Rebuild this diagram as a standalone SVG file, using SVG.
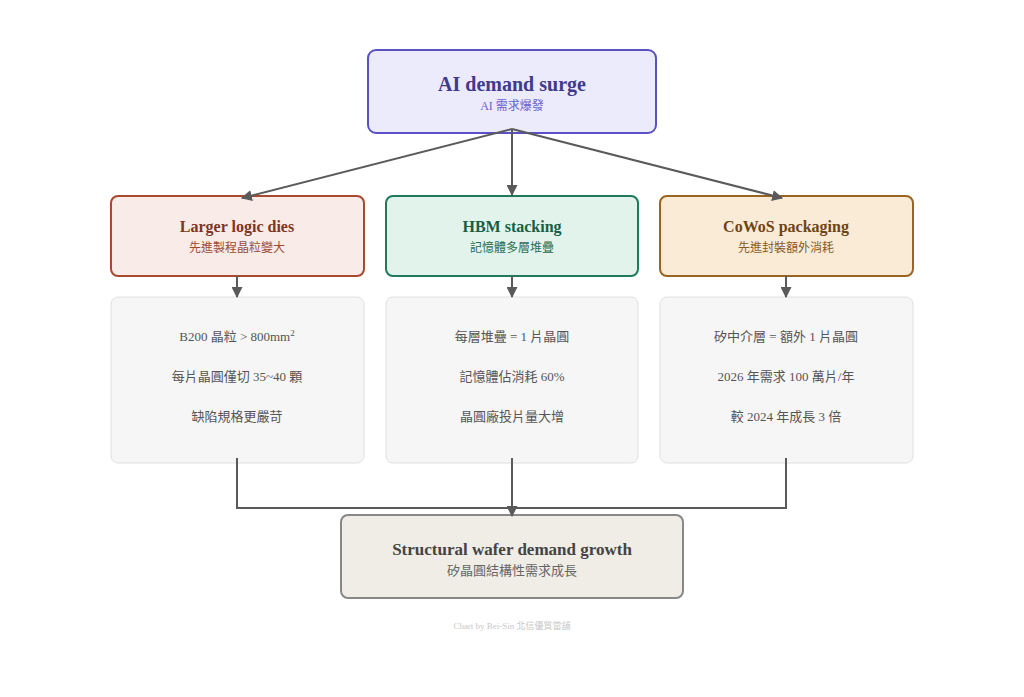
<svg xmlns="http://www.w3.org/2000/svg" width="1024" height="697" viewBox="0 0 1024 697">
<style>
text{font-family:"Liberation Serif","Noto Sans CJK TC",serif;text-anchor:middle}
.t{font-weight:bold}
.d{font-size:13px;fill:#555}
.c{stroke:#5a5a5a;stroke-width:2;fill:none}
</style>
<defs>
<marker id="ah" viewBox="0 0 10 10" refX="9" refY="5" markerWidth="5.5" markerHeight="5.5" orient="auto"><path d="M0,0 L10,5 L0,10 z" fill="#5a5a5a"/></marker>
</defs>
<rect width="1024" height="697" fill="#fff"/>
<g id="top">
<rect x="368" y="50" width="288" height="83" rx="8" fill="#ecebfc" stroke="#5b50c4" stroke-width="2"/>
<text class="t" x="512" y="91" font-size="20" fill="#3f3a8c">AI demand surge</text>
<text x="512" y="110" font-size="12" fill="#6a5fd0">AI 需求爆發</text>
</g>
<g id="logic">
<rect x="111" y="196" width="253" height="80" rx="7" fill="#f9ece8" stroke="#a84a30" stroke-width="2"/>
<text class="t" x="237" y="232" font-size="16" fill="#7e3522">Larger logic dies</text>
<text x="237" y="252" font-size="12" fill="#9a4a35">先進製程晶粒變大</text>
</g>
<g id="hbm">
<rect x="386" y="196" width="252" height="80" rx="7" fill="#e2f3ec" stroke="#1e7a5a" stroke-width="2"/>
<text class="t" x="512" y="232" font-size="16" fill="#175e45">HBM stacking</text>
<text x="512" y="252" font-size="12" fill="#2a6f56">記憶體多層堆疊</text>
</g>
<g id="cowos">
<rect x="660" y="196" width="253" height="80" rx="7" fill="#faebd7" stroke="#9b6422" stroke-width="2"/>
<text class="t" x="786" y="232" font-size="16" fill="#6e4414">CoWoS packaging</text>
<text x="786" y="252" font-size="12" fill="#8a5a26">先進封裝額外消耗</text>
</g>
<g id="logic-detail">
<rect x="111" y="297" width="253" height="166" rx="7" fill="#f6f6f6" stroke="#e0e0e0" stroke-width="1"/>
<text class="d" x="237" y="341">B200 晶粒 &gt; 800mm<tspan font-size="9" dy="-5">2</tspan></text>
<text class="d" x="237" y="381">每片晶圓僅切 35~40 顆</text>
<text class="d" x="237" y="421">缺陷規格更嚴苛</text>
</g>
<g id="hbm-detail">
<rect x="386" y="297" width="252" height="166" rx="7" fill="#f6f6f6" stroke="#e0e0e0" stroke-width="1"/>
<text class="d" x="512" y="341">每層堆疊 = 1 片晶圓</text>
<text class="d" x="512" y="381">記憶體佔消耗 60%</text>
<text class="d" x="512" y="421">晶圓廠投片量大增</text>
</g>
<g id="cowos-detail">
<rect x="660" y="297" width="253" height="166" rx="7" fill="#f6f6f6" stroke="#e0e0e0" stroke-width="1"/>
<text class="d" x="786" y="341">矽中介層 = 額外 1 片晶圓</text>
<text class="d" x="786" y="381">2026 年需求 100 萬片/年</text>
<text class="d" x="786" y="421">較 2024 年成長 3 倍</text>
</g>
<g id="result">
<rect x="341" y="515" width="342" height="83" rx="7" fill="#f0ede6" stroke="#888" stroke-width="2"/>
<text class="t" x="512" y="555" font-size="17" fill="#444">Structural wafer demand growth</text>
<text x="512" y="575" font-size="13" fill="#666">矽晶圓結構性需求成長</text>
</g>
<g id="connectors">
<line class="c" x1="512" y1="129" x2="242" y2="198" marker-end="url(#ah)"/>
<line class="c" x1="512" y1="129" x2="512" y2="195" marker-end="url(#ah)"/>
<line class="c" x1="512" y1="129" x2="782" y2="198" marker-end="url(#ah)"/>
<line class="c" x1="237" y1="276" x2="237" y2="297" marker-end="url(#ah)"/>
<line class="c" x1="512" y1="276" x2="512" y2="297" marker-end="url(#ah)"/>
<line class="c" x1="786" y1="276" x2="786" y2="297" marker-end="url(#ah)"/>
<path class="c" d="M237,458 V508 H786 V458"/>
<line class="c" x1="512" y1="458" x2="512" y2="516" marker-end="url(#ah)"/>
</g>
<text id="footer" x="512" y="629" font-size="9" fill="#c8c8c8">Chart by Bei-Sin 北信優質當舖</text>
</svg>
